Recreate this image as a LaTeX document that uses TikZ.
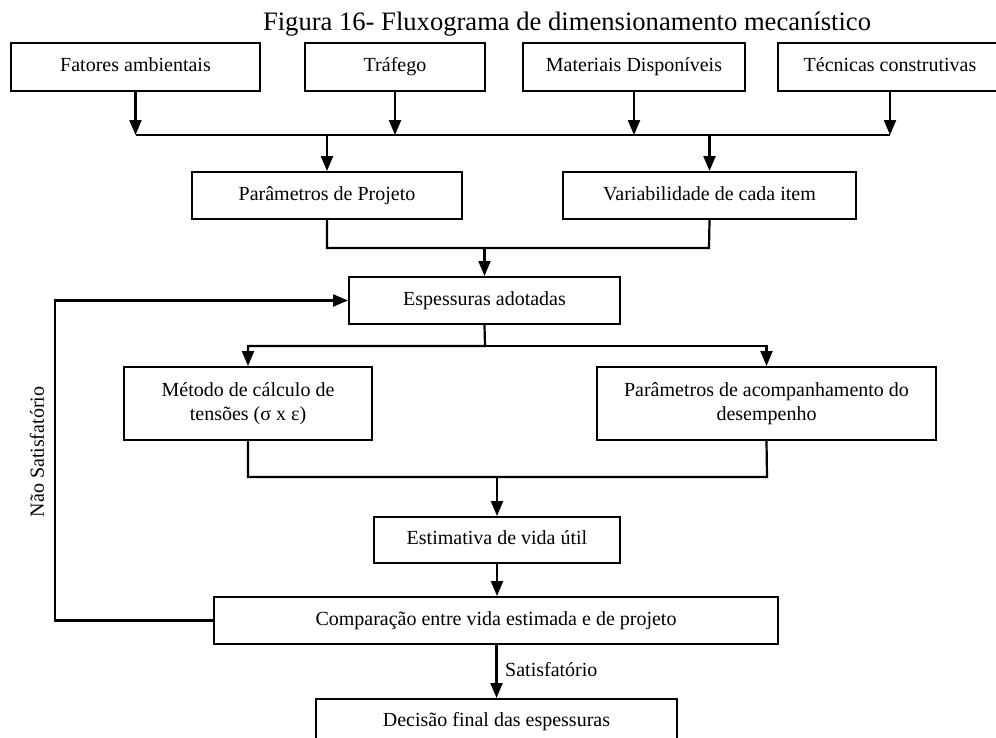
\documentclass[tikz,border=0pt]{standalone}
\usepackage{fontspec}
\setmainfont{Liberation Serif}
\usetikzlibrary{arrows.meta,calc}
\newcommand{\boxfont}{\fontsize{20bp}{23.5bp}\selectfont}
\newcommand{\titlefont}{\fontsize{26.6bp}{30bp}\selectfont}
\tikzset{
  boxbase/.style={draw=black, line width=2bp, align=center, inner sep=0pt, font=\boxfont, fill=white},
  box/.style={boxbase, text height=14bp, text depth=4.5bp},
  conn/.style={line width=2.2bp, draw=black},
  arr/.style={conn, -{Triangle[width=12bp,length=15bp]}},
  lbl/.style={font=\boxfont, inner sep=0pt}
}
\begin{document}
\begin{tikzpicture}[x=1bp,y=-1bp]
\useasboundingbox (0,0) rectangle (996,738);
\clip (0,0) rectangle (996,738);
\fill[white] (0,0) rectangle (996,738);

% title
\node[anchor=base, font=\titlefont, inner sep=0pt] (title) at (567,31) {Figura 16- Fluxograma de dimensionamento mecanístico};

% row 1
\node[box, minimum width=249bp, minimum height=48bp] (fat) at (135.5,67) {Fatores ambientais};
\node[box, minimum width=180bp, minimum height=48bp] (tra) at (395,67) {Tráfego};
\node[box, minimum width=222bp, minimum height=48bp] (mat) at (634,67) {Materiais Disponíveis};
\node[box, minimum width=224bp, minimum height=48bp] (tec) at (890,67) {Técnicas construtivas};

% row 2
\node[box, minimum width=270bp, minimum height=47bp] (pp) at (327,195.5) {Parâmetros de Projeto};
\node[box, minimum width=293bp, minimum height=47bp] (var) at (709.5,195.5) {Variabilidade de cada item};

% espessuras
\node[box, minimum width=271bp, minimum height=47bp] (esp) at (484.5,300.5) {Espessuras adotadas};

% row 4
\node[boxbase, minimum width=248bp, minimum height=73bp] (met) at (248,403.5) {Método de cálculo de\\tensões (σ x ε)};
\node[boxbase, minimum width=339bp, minimum height=73bp] (pac) at (766.5,403.5) {Parâmetros de acompanhamento do\\desempenho};

% lower chain
\node[box, minimum width=246bp, minimum height=46bp] (est) at (497,540) {Estimativa de vida útil};
\node[box, minimum width=564bp, minimum height=47bp] (comp) at (496,620.5) {Comparação entre vida estimada e de projeto};
\node[box, minimum width=361bp, minimum height=46bp] (dec) at (496.5,722) {Decisão final das espessuras};

% junction coordinates
\coordinate (bus1L) at (136,135);
\coordinate (bus1R) at (890,135);
\coordinate (bus2L) at (327,248);
\coordinate (bus2R) at (709,248);
\coordinate (bus3) at (485,346);
\coordinate (bus4L) at (248,477);
\coordinate (bus4R) at (767,477);
\coordinate (fbk) at (55,620.5);

% row1 -> bus
\draw[arr] (fat.south) -- (fat.south |- bus1L);
\draw[arr] (tra.south) -- (tra.south |- bus1L);
\draw[arr] (mat.south) -- (mat.south |- bus1L);
\draw[arr] (tec.south) -- (tec.south |- bus1L);
\draw[conn] (bus1L) -- (bus1R);
\draw[arr] (pp.north |- bus1L) -- (pp.north);
\draw[arr] (var.north |- bus1L) -- (var.north);

% row2 -> espessuras
\draw[conn] (pp.south) -- (bus2L) -- (bus2R) -- (var.south);
\draw[arr] (esp.north |- bus2L) -- (esp.north);

% espessuras -> row4
\draw[arr] (esp.south) -- (bus3) -| (met.north);
\draw[arr] (bus3) -| (pac.north);

% row4 -> estimativa
\draw[conn] (met.south) -- (bus4L) -- (bus4R) -- (pac.south);
\draw[arr] (est.north |- bus4L) -- (est.north);

% estimativa -> comparacao
\draw[arr] (est.south) -- (est.south |- comp.north);

% comparacao -> decisao
\draw[arr] (comp.south -| dec.north) -- (dec.north);
\node[lbl, anchor=west] (sat) at (505,670) {Satisfatório};

% feedback
\draw[arr] (comp.west) -- (fbk) |- (esp.west);
\node[lbl, rotate=90] (nsat) at (37,452) {Não Satisfatório};
\end{tikzpicture}
\end{document}
